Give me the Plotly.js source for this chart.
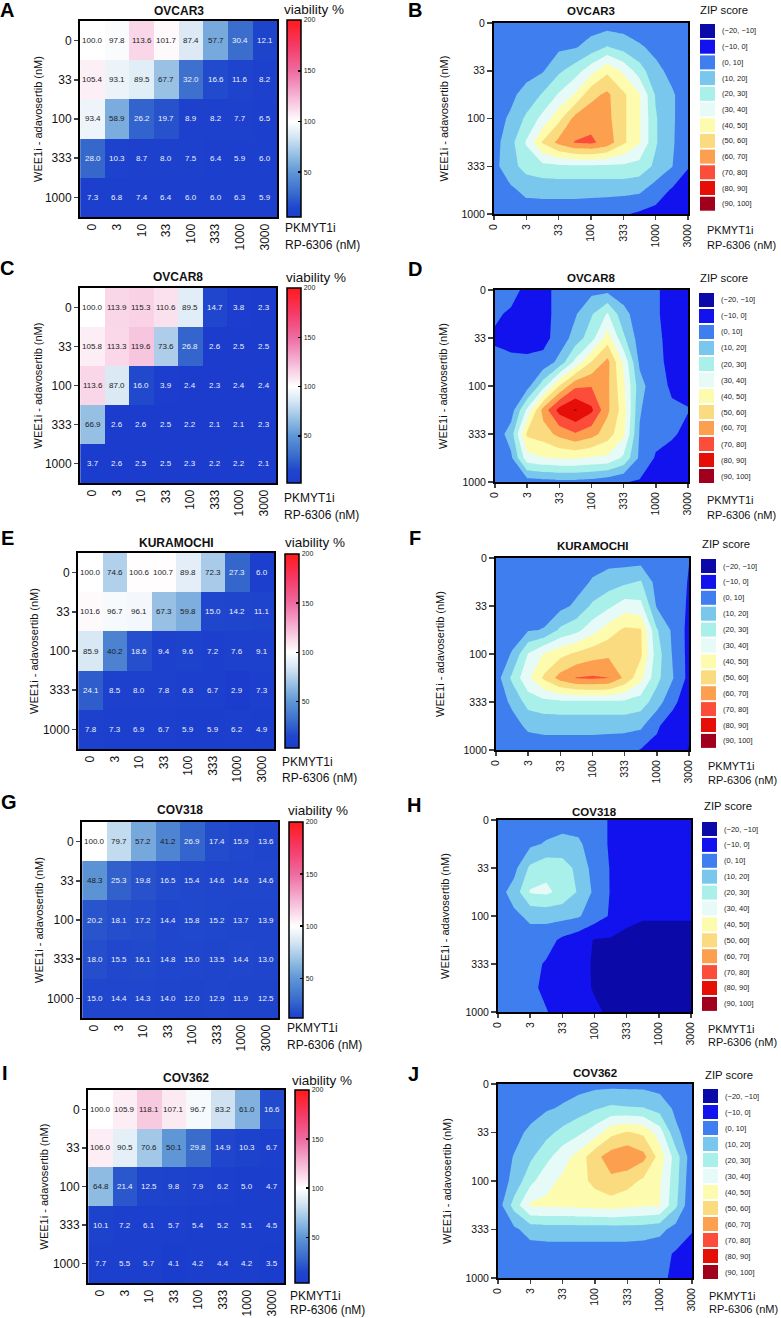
<!DOCTYPE html>
<html><head><meta charset="utf-8">
<script src="https://cdn.plot.ly/plotly-3.0.1.min.js"></script>
<style>body{margin:0;background:#fff}#chart{width:781px;height:1318px}</style>
</head><body><div id="chart"></div>
<script>
const W = 781, H = 1318;
const FONT = 'Liberation Sans, Arial, sans-serif';

// ---------- categories / tick labels ----------
const doseX = ['0','3','10','33','100','333','1000','3000'];
const doseY = ['0','33','100','333','1000'];
const zipTickVals = [0,1,2,3,4,5,6];
const zipTickText = ['0','3','33','100','333','1000','3000'];
const zipYTickVals = [0,1,2,3,4];
const zipYTickText = ['0','33','100','333','1000'];
const zipX = [0,0.5,1,1.5,2,2.5,3,3.5,4,4.5,5,5.5,6];
const zipY = [0,0.5,1,1.5,2,2.5,3,3.5,4];
const zipBins = ['(\u221220, \u221210]','(\u221210, 0]','(0, 10]','(10, 20]','(20, 30]','(30, 40]','(40, 50]','(50, 60]','(60, 70]','(70, 80]','(80, 90]','(90, 100]'];
const zipColors = ['#0b0aa8','#1212ef','#3f7eef','#79c7ec','#a9f0ea','#e6fbf8','#fdfbae','#fbdb80','#fca04f','#fb4d3a','#e50f08','#a0001e'];

// ---------- viability (%) ----------
const via_OVCAR3 = [
 [100.0, 97.8,113.6,101.7, 87.4, 57.7, 30.4, 12.1],
 [105.4, 93.1, 89.5, 67.7, 32.0, 16.6, 11.6,  8.2],
 [ 93.4, 58.9, 26.2, 19.7,  8.9,  8.2,  7.7,  6.5],
 [ 28.0, 10.3,  8.7,  8.0,  7.5,  6.4,  5.9,  6.0],
 [  7.3,  6.8,  7.4,  6.4,  6.0,  6.0,  6.3,  5.9]];
const via_OVCAR8 = [
 [100.0,113.9,115.3,110.6, 89.5, 14.7,  3.8,  2.3],
 [105.8,113.3,119.6, 73.6, 26.8,  2.6,  2.5,  2.5],
 [113.6, 87.0, 16.0,  3.9,  2.4,  2.3,  2.4,  2.4],
 [ 66.9,  2.6,  2.6,  2.5,  2.2,  2.1,  2.1,  2.3],
 [  3.7,  2.6,  2.5,  2.5,  2.3,  2.2,  2.2,  2.1]];
const via_KURAMOCHI = [
 [100.0, 74.6,100.6,100.7, 89.8, 72.3, 27.3,  6.0],
 [101.6, 96.7, 96.1, 67.3, 59.8, 15.0, 14.2, 11.1],
 [ 85.9, 40.2, 18.6,  9.4,  9.6,  7.2,  7.6,  9.1],
 [ 24.1,  8.5,  8.0,  7.8,  6.8,  6.7,  2.9,  7.3],
 [  7.8,  7.3,  6.9,  6.7,  5.9,  5.9,  6.2,  4.9]];
const via_COV318 = [
 [100.0, 79.7, 57.2, 41.2, 26.9, 17.4, 15.9, 13.6],
 [ 48.3, 25.3, 19.8, 16.5, 15.4, 14.6, 14.6, 14.6],
 [ 20.2, 18.1, 17.2, 14.4, 15.8, 15.2, 13.7, 13.9],
 [ 18.0, 15.5, 16.1, 14.8, 15.0, 13.5, 14.4, 13.0],
 [ 15.0, 14.4, 14.3, 14.0, 12.0, 12.9, 11.9, 12.5]];
const via_COV362 = [
 [100.0,105.9,118.1,107.1, 96.7, 83.2, 61.0, 16.6],
 [106.0, 90.5, 70.6, 50.1, 29.8, 14.9, 10.3,  6.7],
 [ 64.8, 21.4, 12.5,  9.8,  7.9,  6.2,  5.0,  4.7],
 [ 10.1,  7.2,  6.1,  5.7,  5.4,  5.2,  5.1,  4.5],
 [  7.7,  5.5,  5.7,  4.1,  4.2,  4.4,  4.2,  3.5]];

// ---------- ZIP synergy scores ----------
const zip_OVCAR3 = [
 [2,3,3,3,4,4,5,5,5,5,4,3,2],
 [4,5,6,7,8,9,14,20.5,16,11,8,6,4],
 [5,6,7,9,18,25,36,48,38,25,12,8,5],
 [6,8,13,21,31,41,57,62,52,41,19,11,6],
 [7,11,22,33,47,63,66,63,52,41,21,11,6],
 [6,16,31,51,63,70.5,72,66,52,41,21,11,5],
 [7,16,24,27,28,28,28,28,28,26,18,10.5,0.5],
 [5,8,12.5,13,13,13,13,13,13,12,5,-1,-4],
 [3,4,5,5,5,5,4,3,1,-1.5,-3,-5,-7]];
const zip_OVCAR8 = [
 [3,2.5,-2,-2,2,5,7,7,5,3,1,-3,-5],
 [1,-1,-3,-3,3,9,19,31,13,5,1,-3,-5],
 [-1,-3,-4,-3,4,14,26,45,22,5,2,-3,-5],
 [2,2,2,3,13,33,50.5,63,38,8,2,-2,-4],
 [2,3,6,26,50.5,68,69.5,62,42,14,3,-1,-2],
 [1,5,32,64,84,91,82,62,45,11,2,1,0.3],
 [3,15,52,55,63,69,64,55,42,9,3,1,-2],
 [2,8,36,39.5,41,41,39,38,28,8,-1,-3,-5],
 [2,3,5,6,7,7,6,3,0.5,-1,-3,-5,-6]];
const zip_KURAMOCHI = [
 [3,3,3,4,4,5,6,6,5,5,4,2,0.2],
 [4,4,4,5,5,6,11,15,18,21,6,4,-0.5],
 [4,5,6,6,7,12,22,28,35,33,9,4,-1],
 [5,7,9,10.5,22,27,36,45,52,51,21,8,-3],
 [6,10.5,30.5,41,47,52,56,58,57,52,25,9,-3],
 [5,22,38,52,64,70.5,71.5,70.2,58,43,23,10.5,-3],
 [4,12,24,27,28,28,28,28,28,25,15,2,-5],
 [3,6,12,13,13,13,13,13,13,12,1,-4,-8],
 [2,3,4,5,5,5,5,4,3,-0.5,-2,-6,-10.5]];
const zip_COV318 = [
 [3,3,4,5,6,5,2,-0.5,-4,-5,-6,-6,-6],
 [3,5,8,11,13,12,4,-1,-3,-4,-5,-6,-6],
 [3,7,22,27,25,17,6,-0.5,-3,-5,-6,-7,-7],
 [6,14,31,32,27,19,8,-0.5,-3,-6,-8,-8,-8],
 [5,8,12,13,13,11,5,-1,-8,-9.5,-9.5,-9.5,-9.5],
 [5,6,6,4,-2,-6,-10.5,-11,-12,-12,-12,-12,-12],
 [5,5,3,-1,-4,-7,-11,-13,-14,-14,-14,-13,-13],
 [5,5,2,-2,-5,-8,-10.5,-13,-14,-14,-14,-13,-13],
 [5,5,4,0.5,-4,-7,-9,-11,-13,-13,-13,-13,-13]];
const zip_COV362 = [
 [3,4,5,5,6,6,7,7,7,7,6,5,4],
 [4,5,6,9,11,15,19,22,21,20.5,16,8,5],
 [5,7,12,17,23,28,35,47,51,48,35,12,5],
 [5,10.5,18,27,36,44,57,65,68,63,46,25,4],
 [4,13,27,37,42,46,53,58,54,48,41,24,2],
 [5,24,41.5,42,42,43,44,45,43,41.5,40.5,22,1],
 [4,8,14,15,15,15,15,15,15,15,13,6,0.5],
 [3,4,5,5,5,5,5,5,5,4,3,-1,-3],
 [3,4,4,4,4,4,4,4,4,4,2,-2,-4]];

// ---------- panel geometry (pixels) ----------
const heatPanels = [
 {name:'OVCAR3', data:via_OVCAR3, letter:'A', lx:7, ly:10, x:[80,277], y:[21,217], cb:[287,20,217], vt:[314,10], pk:[283,228,245], yt:38, tt:11},
 {name:'OVCAR8', data:via_OVCAR8, letter:'C', lx:7, ly:268, x:[80,276], y:[288,483], cb:[287,288,483], vt:[316,277], pk:[282,498,515], yt:38, tt:277},
 {name:'KURAMOCHI', data:via_KURAMOCHI, letter:'E', lx:7, ly:538, x:[78,274], y:[553,749], cb:[285,554,748], vt:[315,542], pk:[280,762,778], yt:34, tt:543},
 {name:'COV318', data:via_COV318, letter:'G', lx:9, ly:802, x:[82,278], y:[822,1018], cb:[289,822,1018], vt:[318,810], pk:[285,1028,1045], yt:39, tt:810},
 {name:'COV362', data:via_COV362, letter:'I', lx:5, ly:1073, x:[88,284], y:[1090,1283], cb:[295,1090,1283], vt:[322,1080], pk:[288,1296,1310], yt:43, tt:1078}
];
const zipPanels = [
 {name:'OVCAR3', data:zip_OVCAR3, letter:'B', lx:415, ly:10, x:[494,688], y:[23,214], lg:[700,24,15.7], zt:[698,10], pk:[705,230,245], yt:444, tt:11},
 {name:'OVCAR8', data:zip_OVCAR8, letter:'D', lx:415, ly:269, x:[495,688], y:[290,482], lg:[699,293,16], zt:[698,278], pk:[705,500,515], yt:443, tt:278},
 {name:'KURAMOCHI', data:zip_KURAMOCHI, letter:'F', lx:415, ly:538, x:[496,689], y:[558,750], lg:[701,559,15.9], zt:[700,544], pk:[706,766,780], yt:440, tt:546},
 {name:'COV318', data:zip_COV318, letter:'H', lx:414, ly:805, x:[498,691], y:[820,1012], lg:[702,822,15.9], zt:[702,806], pk:[706,1029,1042], yt:445, tt:812},
 {name:'COV362', data:zip_COV362, letter:'J', lx:413, ly:1074, x:[498,692], y:[1084,1278], lg:[703,1089,16], zt:[703,1075], pk:[707,1296,1309], yt:447, tt:1073}
];

// ---------- helpers ----------
const px = v => v / W;
const py = v => 1 - v / H;
function hex2rgb(h){return [parseInt(h.slice(1,3),16),parseInt(h.slice(3,5),16),parseInt(h.slice(5,7),16)];}
const vAnch = [[0,'#1a3acd'],[15,'#1f46cc'],[30,'#3a6dcc'],[50,'#5f96d6'],[65,'#8fbbe2'],[85,'#d6e6f4'],[100,'#ffffff'],[115,'#f9d3e6'],[130,'#f4a6cb'],[150,'#ee6b9f'],[175,'#f53a66'],[200,'#ff1a1a']];
function colorAt(v){
  for(let i=0;i<vAnch.length-1;i++){
    const [a,ca]=vAnch[i],[b,cb]=vAnch[i+1];
    if(v>=a && v<=b){
      const t=(v-a)/(b-a), A=hex2rgb(ca), B=hex2rgb(cb);
      return 'rgb('+A.map((x,k)=>Math.round(x+(B[k]-x)*t)).join(',')+')';
    }
  }
  return vAnch[vAnch.length-1][1];
}
function vScale(zmin){
  const out=[[0,colorAt(zmin)]];
  vAnch.forEach(([v,c])=>{ if(v>zmin) out.push([(v-zmin)/(200-zmin), c]); });
  return out;
}
const zipScale = [[0, zipColors[0]]];
zipColors.forEach((c,k)=>zipScale.push([(k+1)/13, c]));
zipScale.push([1, zipColors[zipColors.length-1]]);

const traces = [];
const layout = {
  width:W, height:H, margin:{l:0,r:0,t:0,b:0},
  paper_bgcolor:'#fff', plot_bgcolor:'#fff', showlegend:false,
  font:{family:FONT, color:'#111'},
  annotations:[], shapes:[]
};
const ann = a => layout.annotations.push(Object.assign({showarrow:false, xref:'paper', yref:'paper'}, a));

let ax = 1;
heatPanels.forEach(p => {
  const xa = 'x'+ax, ya = 'y'+ax, xk = 'xaxis'+ax, yk = 'yaxis'+ax;
  const zmin = Math.min(...p.data.flat());
  traces.push({
    type:'heatmap', x:doseX, y:doseY, z:p.data, xaxis:xa, yaxis:ya,
    zmin:zmin, zmax:200, colorscale:vScale(zmin), hoverinfo:'skip',
    colorbar:{x:px(p.cb[0]), xanchor:'left', y:py(p.cb[1]), yanchor:'top',
      len:p.cb[2]-p.cb[1], lenmode:'pixels', thickness:14, xpad:0, ypad:0,
      outlinewidth:1.5, outlinecolor:'#000', tickvals:[50,100,150,200],
      ticks:'inside', ticklen:3, tickwidth:1.5, tickcolor:'#000',
      tickfont:{size:7, family:FONT, color:'#222'}}
  });
  layout[xk] = {domain:[px(p.x[0]),px(p.x[1])], anchor:ya, type:'category',
    showline:true, mirror:true, linewidth:2, linecolor:'#000', ticks:'',
    tickangle:-90, tickfont:{size:12, family:FONT, color:'#111'}, showgrid:false, zeroline:false};
  layout[yk] = {domain:[py(p.y[1]),py(p.y[0])], anchor:xa, type:'category', autorange:'reversed',
    showline:true, mirror:true, linewidth:2, linecolor:'#000', ticks:'outside', ticklen:4, tickwidth:1.5,
    tickfont:{size:12, family:FONT, color:'#111'}, showgrid:false, zeroline:false};
  p.data.forEach((row,i)=>row.forEach((v,j)=>{
    layout.annotations.push({xref:xa, yref:ya, x:j, y:i, text:v.toFixed(1), showarrow:false,
      font:{size:8, family:FONT, color: v>=35 ? '#1c1c1c' : '#eef2fb'}});
  }));
  ann({x:px((p.x[0]+p.x[1])/2), y:py(p.tt), text:'<b>'+p.name+'</b>', font:{size:12}, xanchor:'center', yanchor:'middle'});
  ann({x:px(p.lx), y:py(p.ly), text:'<b>'+p.letter+'</b>', font:{size:20, color:'#000'}, xanchor:'center', yanchor:'middle'});
  ann({x:px(p.vt[0]), y:py(p.vt[1]), text:'viability %', font:{size:13.5}, xanchor:'center', yanchor:'middle'});
  ann({x:px(p.pk[0]), y:py(p.pk[1]), text:'PKMYT1i', font:{size:12}, xanchor:'left', yanchor:'middle'});
  ann({x:px(p.pk[0]), y:py(p.pk[2]), text:'RP-6306 (nM)', font:{size:12}, xanchor:'left', yanchor:'middle'});
  ann({x:px(p.yt), y:py((p.y[0]+p.y[1])/2), text:'WEE1i - adavosertib (nM)', textangle:-90, font:{size:11}, xanchor:'center', yanchor:'middle'});
  ax++;
});

zipPanels.forEach(p => {
  const xa = 'x'+ax, ya = 'y'+ax, xk = 'xaxis'+ax, yk = 'yaxis'+ax;
  traces.push({
    type:'contour', x:zipX, y:zipY, z:p.data, xaxis:xa, yaxis:ya,
    autocontour:false, contours:{start:-20, end:100, size:10, coloring:'fill', showlines:false},
    line:{width:0, smoothing:0}, colorscale:zipScale, showscale:false, hoverinfo:'skip'
  });
  layout[xk] = {domain:[px(p.x[0]),px(p.x[1])], anchor:ya, range:[0,6],
    tickvals:zipTickVals, ticktext:zipTickText, tickangle:-90,
    showline:true, mirror:true, linewidth:2, linecolor:'#000', ticks:'outside', ticklen:4, tickwidth:1.5,
    tickfont:{size:10.5, family:FONT, color:'#111'}, showgrid:false, zeroline:false};
  layout[yk] = {domain:[py(p.y[1]),py(p.y[0])], anchor:xa, range:[4,0],
    tickvals:zipYTickVals, ticktext:zipYTickText,
    showline:true, mirror:true, linewidth:2, linecolor:'#000', ticks:'outside', ticklen:5, tickwidth:1.5,
    tickfont:{size:10.5, family:FONT, color:'#111'}, showgrid:false, zeroline:false};
  ann({x:px((p.x[0]+p.x[1])/2), y:py(p.tt), text:'<b>'+p.name+'</b>', font:{size:11.5}, xanchor:'center', yanchor:'middle'});
  ann({x:px(p.lx), y:py(p.ly), text:'<b>'+p.letter+'</b>', font:{size:20, color:'#000'}, xanchor:'center', yanchor:'middle'});
  ann({x:px(p.zt[0]), y:py(p.zt[1]), text:'ZIP score', font:{size:11.3}, xanchor:'left', yanchor:'middle'});
  ann({x:px(p.pk[0]), y:py(p.pk[1]), text:'PKMYT1i', font:{size:11}, xanchor:'left', yanchor:'middle'});
  ann({x:px(p.pk[0]), y:py(p.pk[2]), text:'RP-6306 (nM)', font:{size:11}, xanchor:'left', yanchor:'middle'});
  ann({x:px(p.yt), y:py((p.y[0]+p.y[1])/2), text:'WEE1i - adavosertib (nM)', textangle:-90, font:{size:11}, xanchor:'center', yanchor:'middle'});
  const [lx0, ly0, pitch] = p.lg;
  zipBins.forEach((lab,k)=>{
    const top = ly0 + k*pitch;
    layout.shapes.push({type:'rect', xref:'paper', yref:'paper', x0:px(lx0), x1:px(lx0+15),
      y0:py(top+14), y1:py(top), fillcolor:zipColors[k], line:{width:0}});
    ann({x:px(lx0+20), y:py(top+7), text:lab, font:{size:7.5, color:'#222'}, xanchor:'left', yanchor:'middle'});
  });
  ax++;
});

Plotly.newPlot('chart', traces, layout, {staticPlot:true, displayModeBar:false});
</script>
</body></html>
